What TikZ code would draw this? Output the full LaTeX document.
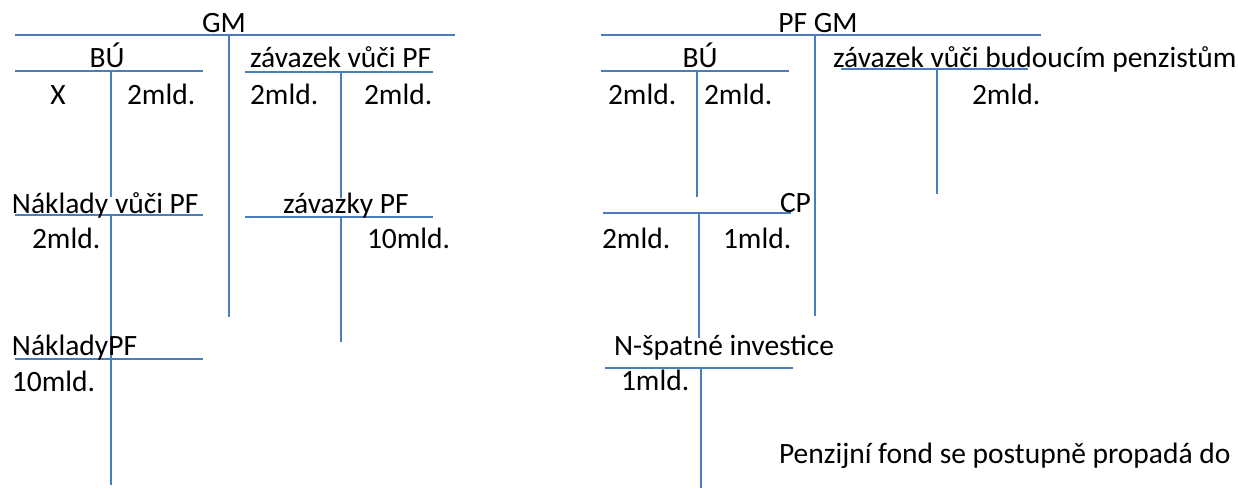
\documentclass[tikz,border=0pt]{standalone}
\usepackage{fontspec}
\setmainfont{Carlito}
\begin{document}
\begin{tikzpicture}[x=1pt,y=-1pt,
  acc/.style={draw=accblue,line width=1.4pt},
  txt/.style={inner sep=0pt,outer sep=0pt,anchor=base west,font=\fontsize{29.5}{33}\selectfont},
  ctxt/.style={txt,anchor=base}]
\definecolor{accblue}{HTML}{4A7EBB}
\useasboundingbox (0,0) rectangle (1238,489);
% ---------- left: GM ----------
\draw[acc] (15,35) -- (455,35);
\draw[acc] (229,35) -- (229,317);
\draw[acc] (15,71) -- (203,71);
\draw[acc] (111,71) -- (111,197);
\draw[acc] (245,72) -- (433,72);
\draw[acc] (341,72) -- (341,198);
\draw[acc] (15,215) -- (203,215);
\draw[acc] (111,215) -- (111,485);
\draw[acc] (245,217) -- (433,217);
\draw[acc] (341,217) -- (341,342);
\draw[acc] (15,359) -- (203,359);
\node[ctxt] (gm) at (224,33) {GM};
\node[ctxt] (bu1) at (107,68) {BÚ};
\node[ctxt] (x1) at (58,105) {X};
\node[txt] (b1) at (127,105) {2mld.};
\node[txt] (zav1) at (250,68) {závazek vůči PF};
\node[txt] (z1a) at (250,105) {2mld.};
\node[txt] (z1b) at (364,105) {2mld.};
\node[txt] (nak1) at (12,213) {Náklady vůči PF};
\node[txt] (n1a) at (32,248) {2mld.};
\node[txt] (zpf) at (283,213) {závazky PF};
\node[txt] (zpfa) at (367,248) {10mld.};
\node[txt] (npf) at (12,355) {NákladyPF};
\node[txt] (npfa) at (12,391) {10mld.};
% ---------- right: PF GM ----------
\draw[acc] (601,35) -- (1041,35);
\draw[acc] (815,35) -- (815,316);
\draw[acc] (601,71) -- (789,71);
\draw[acc] (697,71) -- (697,197);
\draw[acc] (841,69) -- (1028,69);
\draw[acc] (937,69) -- (937,194);
\draw[acc] (603,213) -- (791,213);
\draw[acc] (699,213) -- (699,338);
\draw[acc] (605,368) -- (793,368);
\draw[acc] (701,368) -- (701,488);
\node[ctxt] (pfgm) at (818,33) {PF GM};
\node[ctxt] (bu2) at (700,68) {BÚ};
\node[txt] (zav2) at (833,68) {závazek vůči budoucím penzistům};
\node[txt] (b2a) at (608,105) {2mld.};
\node[txt] (b2b) at (704,105) {2mld.};
\node[txt] (z2a) at (972,105) {2mld.};
\node[txt] (cp) at (780,212) {CP};
\node[txt] (cpa) at (602,248) {2mld.};
\node[txt] (cpb) at (723,248) {1mld.};
\node[txt] (nsi) at (614,355) {N-špatné investice};
\node[txt] (nsia) at (621,390) {1mld.};
\node[txt] (pen) at (779,463) {Penzijní fond se postupně propadá do};
\end{tikzpicture}
\end{document}
